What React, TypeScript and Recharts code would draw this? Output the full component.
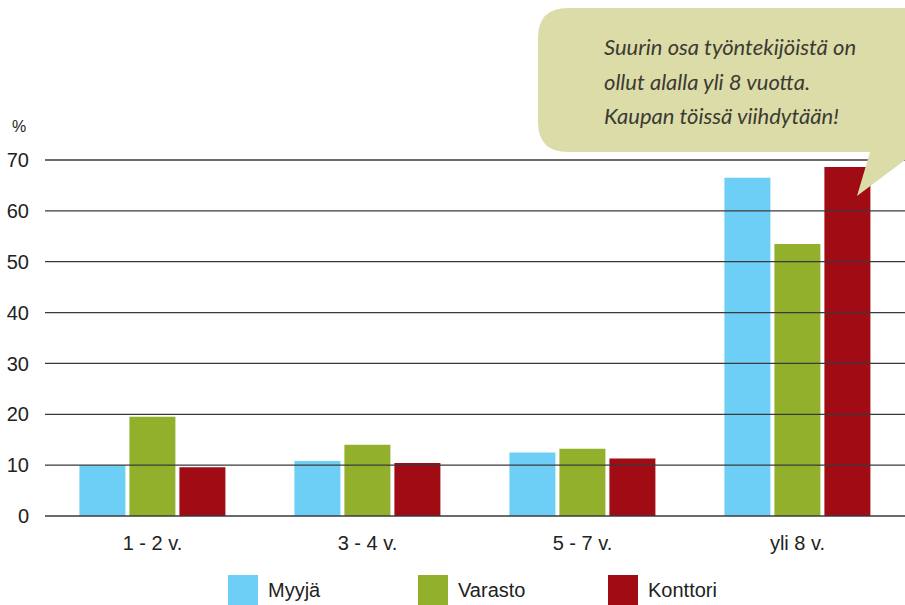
import React from 'react';
import { BarChart, Bar, XAxis, YAxis, ReferenceLine, Legend, Customized } from 'recharts';

const categories = ['1 - 2 v.', '3 - 4 v.', '5 - 7 v.', 'yli 8 v.'];
const myyja = [10.0, 10.8, 12.5, 66.5];
const varasto = [19.5, 14.0, 13.2, 53.5];
const konttori = [9.6, 10.4, 11.3, 68.6];
const yTicks = [0, 10, 20, 30, 40, 50, 60, 70];
const seriesNames = ['Myyjä', 'Varasto', 'Konttori'];
const seriesColors = ['#6dcff6', '#93b02c', '#a00b14'];
const calloutLines = ['Suurin osa työntekijöistä on', 'ollut alalla yli 8 vuotta.', 'Kaupan töissä viihdytään!'];

const data = categories.map((c, i) => ({
  name: c,
  [seriesNames[0]]: myyja[i],
  [seriesNames[1]]: varasto[i],
  [seriesNames[2]]: konttori[i],
}));

const FONT = '"Liberation Sans", Arial, sans-serif';

const UnitLabel = () => (
  <text x={12} y={132} fill="#222" fontFamily={FONT} fontSize={16}>%</text>
);

const Bubble = () => (
  <svg
    width={905}
    height={605}
    style={{ position: 'absolute', left: 0, top: 0, pointerEvents: 'none' }}
  >
    <path
      d="M568,8 L940,8 L940,152 L905,152 L905,160 L857,196 L870,152 L568,152 Q538,152 538,122 L538,38 Q538,8 568,8 Z"
      fill="#dcdca8"
    />
    {calloutLines.map((t, i) => (
      <text
        key={i}
        x={604}
        y={55 + i * 34.5}
        fill="#3b3b33"
        fontFamily="Lato, sans-serif"
        fontStyle="italic"
        fontSize={22}
      >
        {t}
      </text>
    ))}
  </svg>
);

const LegendContent = () => (
  <div style={{ position: 'relative', width: 905, height: 40 }}>
    {seriesNames.map((n, i) => (
      <div key={n} style={{ position: 'absolute', left: 228 + i * 190, top: 0, display: 'flex', alignItems: 'center' }}>
        <div style={{ width: 30, height: 30, background: seriesColors[i] }} />
        <span style={{ marginLeft: 10, fontFamily: FONT, fontSize: 20, color: '#222' }}>{n}</span>
      </div>
    ))}
  </div>
);

export default function App() {
  return (
    <div style={{ position: 'absolute', left: 0, top: 0, width: 905, height: 605, background: '#fff' }}>
      <BarChart
        width={905}
        height={605}
        data={data}
        margin={{ top: 160, right: 0, left: 0, bottom: 9 }}
        barCategoryGap="16%"
        barGap={4}
      >
        <XAxis
          dataKey="name"
          axisLine={false}
          tickLine={false}
          height={40}
          tick={{ fill: '#222', fontSize: 20, fontFamily: FONT }}
          tickMargin={14}
          interval={0}
        />
        <YAxis
          domain={[0, 70]}
          ticks={yTicks}
          width={45}
          axisLine={false}
          tickLine={false}
          tickMargin={10}
          tick={{ fill: '#222', fontSize: 20, fontFamily: FONT }}
          interval={0}
        />
        {seriesNames.map((n, i) => (
          <Bar key={n} dataKey={n} fill={seriesColors[i]} isAnimationActive={false} />
        ))}
        {yTicks.map((t) => (
          <ReferenceLine key={t} y={t} stroke="#3a3a3a" strokeWidth={1.3} />
        ))}
        <Customized component={UnitLabel} />
        <Legend
          verticalAlign="bottom"
          content={LegendContent}
          wrapperStyle={{ position: 'absolute', left: 0, top: 575, width: 905, height: 40 }}
        />
      </BarChart>
      <Bubble />
    </div>
  );
}
